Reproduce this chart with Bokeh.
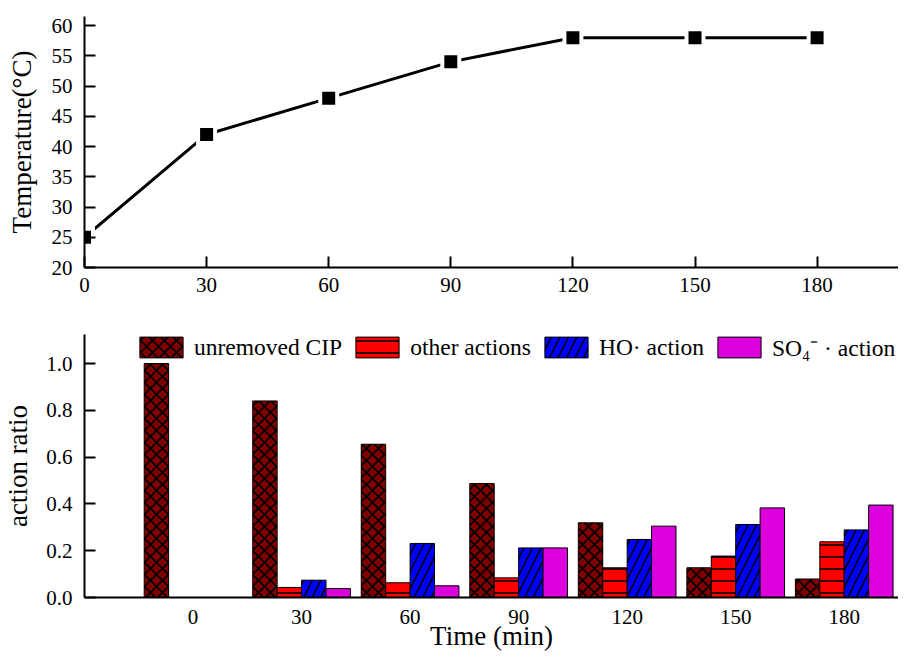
from bokeh.plotting import figure
from bokeh.layouts import column
from bokeh.models import (FixedTicker, Legend, LegendItem, Range1d,
                          PrintfTickFormatter, ColumnDataSource)
from bokeh.transform import dodge
from bokeh.embed import file_html
from bokeh.resources import INLINE

# ---- data ----
times = [0, 30, 60, 90, 120, 150, 180]
temperature = [25, 42, 48, 54, 58, 58, 58]
time_labels = ["0", "30", "60", "90", "120", "150", "180"]
unremoved = [1.0, 0.84, 0.655, 0.487, 0.319, 0.127, 0.079]
other = [0.0, 0.043, 0.063, 0.084, 0.127, 0.177, 0.238]
ho = [0.0, 0.074, 0.231, 0.212, 0.248, 0.312, 0.289]
so4 = [0.0, 0.038, 0.050, 0.212, 0.305, 0.383, 0.395]
temp_ticks = [20, 25, 30, 35, 40, 45, 50, 55, 60]
ratio_ticks = [0.0, 0.2, 0.4, 0.6, 0.8, 1.0]

FONT = "Liberation Serif"


def style_axes(p):
    for ax in list(p.xaxis) + list(p.yaxis):
        ax.axis_line_width = 2
        ax.axis_line_color = "black"
        ax.major_tick_line_width = 2
        ax.major_tick_line_color = "black"
        ax.major_tick_in = 11
        ax.major_tick_out = 0
        ax.minor_tick_line_color = None
        ax.major_label_text_font = FONT
        ax.major_label_text_font_size = "21px"
        ax.major_label_text_color = "black"
        ax.axis_label_text_font = FONT
        ax.axis_label_text_font_size = "27px"
        ax.axis_label_text_font_style = "normal"
        ax.axis_label_text_color = "black"


# ---- top: temperature ----
p1 = figure(width=898, height=310, output_backend="svg", toolbar_location=None,
            x_range=Range1d(0, 200), y_range=Range1d(20, 61.5),
            min_border_left=84, min_border_right=0, min_border_top=16,
            min_border_bottom=43)
p1.outline_line_color = None
p1.grid.visible = False
p1.line(times, temperature, line_width=3, line_color="black")
p1.scatter(times, temperature, marker="square", size=21, fill_color="white",
           line_color=None)
p1.scatter(times, temperature, marker="square", size=13, fill_color="black",
           line_color=None)
p1.xaxis.ticker = FixedTicker(ticks=times)
p1.yaxis.ticker = FixedTicker(ticks=temp_ticks)
p1.yaxis.axis_label = "Temperature(°C)"
style_axes(p1)
p1.xaxis.major_label_standoff = 10
p1.yaxis.major_label_standoff = 12
p1.yaxis.axis_label_standoff = 12

# ---- bottom: action ratio ----
src = ColumnDataSource(dict(idx=list(range(len(times))), unremoved=unremoved,
                            other=other, ho=ho, so4=so4))
p2 = figure(width=898, height=343, output_backend="svg", toolbar_location=None,
            x_range=Range1d(-1, 6.5), y_range=Range1d(0, 1.124),
            min_border_left=84, min_border_right=0, min_border_top=24,
            min_border_bottom=56)
p2.outline_line_color = None
p2.grid.visible = False

specs = [
    ("unremoved", "unremoved CIP", "#800000", "x", 12),
    ("other", "other actions", "#FF0000", "-", 12),
    ("ho", "HO· action", "#0000FF", "/", 17),
    ("so4", "SO₄⁻ · action", "#DC00DC", " ", 12),
]
offsets = [-0.3375, -0.1125, 0.1125, 0.3375]
items = []
for (key, label, color, pat, sc), off in zip(specs, offsets):
    r = p2.vbar(x=dodge("idx", off, range=p2.x_range), top=key, width=0.225,
                source=src, fill_color=color, line_color="black", line_width=1,
                hatch_pattern=pat, hatch_color="black", hatch_weight=1.6,
                hatch_scale=sc)
    items.append(LegendItem(label=label, renderers=[r]))

legend = Legend(items=items, orientation="horizontal", location=(50, 234),
                glyph_width=54, glyph_height=26, label_standoff=6, spacing=8,
                padding=0, margin=0, border_line_color=None,
                background_fill_alpha=0, label_text_font=FONT,
                label_text_font_size="23.5px", label_text_color="black")
p2.add_layout(legend)

p2.xaxis.ticker = FixedTicker(ticks=list(range(len(times))))
p2.xaxis.major_label_overrides = {i: t for i, t in enumerate(time_labels)}
p2.yaxis.ticker = FixedTicker(ticks=ratio_ticks)
p2.yaxis.formatter = PrintfTickFormatter(format="%.1f")
p2.xaxis.axis_label = "Time (min)"
p2.yaxis.axis_label = "action ratio"
style_axes(p2)
p2.xaxis.major_tick_line_color = None
p2.xaxis.major_label_standoff = 12
p2.xaxis.axis_label_standoff = -6
p2.yaxis.major_label_standoff = 12
p2.yaxis.axis_label_standoff = 10

layout = column(p1, p2, spacing=0)
open("out.html", "w").write(file_html(layout, INLINE))
